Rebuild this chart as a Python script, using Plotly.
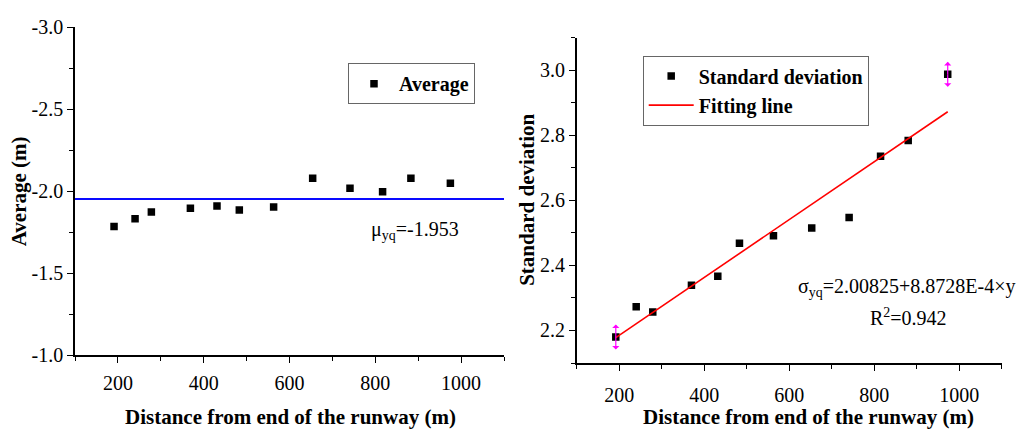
import plotly.graph_objects as go

# ---- data ----
dist_avg = [191, 240, 278, 369, 431, 483, 563, 654, 741, 817, 883, 975]
avg_vals = [-1.786, -1.834, -1.875, -1.898, -1.911, -1.886, -1.905, -2.081, -2.019, -1.998, -2.081, -2.050]
mean_value = -1.953

dist_std = [192, 240, 279, 370, 432, 483, 563, 653, 741, 815, 880, 973]
std_vals = [2.180, 2.273, 2.257, 2.339, 2.367, 2.468, 2.491, 2.515, 2.547, 2.735, 2.784, 2.987]
fit_x = [192, 973]
fit_y = [2.178, 2.872]

# ---- tick labels ----
x_tickvals = [200, 400, 600, 800, 1000]
x_ticktext = ["200", "400", "600", "800", "1000"]
avg_tickvals = [-3.0, -2.5, -2.0, -1.5, -1.0]
avg_ticktext = ["-3.0", "-2.5", "-2.0", "-1.5", "-1.0"]
std_tickvals = [2.2, 2.4, 2.6, 2.8, 3.0]
std_ticktext = ["2.2", "2.4", "2.6", "2.8", "3.0"]

W, H = 1031, 430
SERIF = "Liberation Serif"

fig = go.Figure()

fig.add_trace(go.Scatter(x=dist_avg, y=avg_vals, mode="markers", name="Average",
                         marker=dict(symbol="square", size=7.5, color="black"),
                         xaxis="x", yaxis="y", legend="legend"))
fig.add_trace(go.Scatter(x=[100, 1100], y=[mean_value, mean_value], mode="lines",
                         line=dict(color="#0a0aff", width=2), showlegend=False,
                         xaxis="x", yaxis="y", hoverinfo="skip"))

fig.add_trace(go.Scatter(x=dist_std, y=std_vals, mode="markers", name="Standard deviation",
                         marker=dict(symbol="square", size=7.5, color="black"),
                         xaxis="x2", yaxis="y2", legend="legend2"))
fig.add_trace(go.Scatter(x=fit_x, y=fit_y, mode="lines", name="Fitting line",
                         line=dict(color="red", width=1.6),
                         xaxis="x2", yaxis="y2", legend="legend2"))

tickfont = dict(family=SERIF, size=20, color="black")
common = dict(showline=True, linecolor="black", linewidth=1.5, ticks="outside",
              ticklen=6, tickwidth=1.3, tickcolor="black", showgrid=False, zeroline=False,
              tickfont=tickfont, tickmode="array")

def xax(domain, anchor, standoff):
    return dict(domain=domain, anchor=anchor, range=[100, 1100],
                tickvals=x_tickvals, ticktext=x_ticktext, ticklabelstandoff=standoff,
                minor=dict(tickmode="linear", tick0=100, dtick=100, ticks="outside",
                           ticklen=4, tickwidth=1.2, tickcolor="black"),
                **common)

fig.update_layout(
    width=W, height=H, margin=dict(l=0, r=0, t=0, b=0),
    plot_bgcolor="white", paper_bgcolor="white",
    xaxis=xax([75 / W, 504 / W], "y", 3),
    yaxis=dict(domain=[1 - 363 / H, 1 - 17.3 / H], anchor="x", range=[-1, -3],
               tickvals=avg_tickvals, ticktext=avg_ticktext,
               minor=dict(tickmode="linear", tick0=-3, dtick=0.25, ticks="outside",
                          ticklen=4, tickwidth=1.2, tickcolor="black"),
               **common),
    xaxis2=xax([576.7 / W, 1001.7 / W], "y2", 7),
    yaxis2=dict(domain=[1 - 371 / H, 1 - 28 / H], anchor="x2", range=[2.1, 3.1],
                tickvals=std_tickvals, ticktext=std_ticktext,
                minor=dict(tickmode="linear", tick0=2.1, dtick=0.1, ticks="outside",
                           ticklen=4, tickwidth=1.2, tickcolor="black"),
                **common),
    legend=dict(x=348 / W, y=1 - 55 / H, xanchor="left", yanchor="top",
                bordercolor="#666", borderwidth=1, bgcolor="white",
                font=dict(family=SERIF, size=20, color="black", weight="bold"), itemwidth=40),
    legend2=dict(x=642.7 / W, y=1 - 47 / H, xanchor="left", yanchor="top",
                 bordercolor="#666", borderwidth=1, bgcolor="white",
                 font=dict(family=SERIF, size=20, color="black", weight="bold"), itemwidth=45,
                 tracegroupgap=0),
    showlegend=True,
)

titlefont = dict(family=SERIF, size=21, color="black", weight="bold")
annots = [
    dict(text="Distance from end of the runway (m)", x=290 / W, y=0, yshift=2, font=titlefont),
    dict(text="Distance from end of the runway (m)", x=808 / W, y=0, yshift=2, font=titlefont),
    dict(text="Average (m)", x=19 / W, y=1 - 190 / H, textangle=-90, font=titlefont),
    dict(text="Standard deviation", x=527 / W, y=1 - 199 / H, textangle=-90, font=titlefont),
    dict(text="μ<sub>yq</sub>=-1.953", x=415 / W, y=1 - 231 / H,
         font=dict(family=SERIF, size=20, color="black")),
    dict(text="σ<sub>yq</sub>=2.00825+8.8728E-4×y", x=907 / W, y=1 - 291 / H,
         font=dict(family=SERIF, size=20, color="black")),
    dict(text="R<sup>2</sup>=0.942", x=908 / W, y=1 - 322 / H,
         font=dict(family=SERIF, size=20, color="black")),
]
for a in annots:
    fig.add_annotation(xref="paper", yref="paper", showarrow=False, xanchor="center",
                       yanchor="middle", **a)

# magenta double arrows at first and last std points
for i in (0, len(dist_std) - 1):
    for ay in (-14, 14):
        fig.add_annotation(xref="x2", yref="y2", x=dist_std[i], y=std_vals[i], text="",
                           showarrow=True, ax=0, ay=ay, arrowside="start", arrowhead=2,
                           arrowsize=0.9, arrowwidth=1.2, arrowcolor="#ff00ff")

fig.write_html("out.html")
